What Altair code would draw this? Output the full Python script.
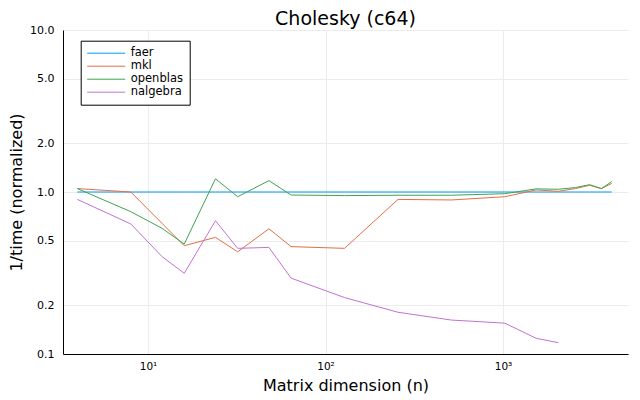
import altair as alt
import pandas as pd

sizes = [4, 8, 12, 16, 24, 32, 48, 64, 128, 256, 512, 1024, 1536, 2048, 2560, 3072, 3584, 4096]
faer = [1.0, 1.0, 1.0, 1.0, 1.0, 1.0, 1.0, 1.0, 1.0, 1.0, 1.0, 1.0, 1.0, 1.0, 1.0, 1.0, 1.0, 1.0]
mkl = [1.05, 1.0, 0.64, 0.466, 0.525, 0.427, 0.593, 0.46, 0.449, 0.90, 0.893, 0.935, 1.03, 1.01, 1.05, 1.10, 1.05, 1.13]
openblas = [1.05, 0.756, 0.597, 0.477, 1.207, 0.935, 1.175, 0.958, 0.95, 0.955, 0.955, 0.976, 1.045, 1.04, 1.065, 1.11, 1.05, 1.16]
nalgebra_sizes = [4, 8, 12, 16, 24, 32, 48, 64, 128, 256, 512, 1024, 1536, 2048]
nalgebra = [0.90, 0.635, 0.399, 0.315, 0.665, 0.449, 0.455, 0.294, 0.223, 0.181, 0.162, 0.155, 0.125, 0.1175]

names = ["faer", "mkl", "openblas", "nalgebra"]
colors = ["#009AFA", "#E36F47", "#3EA44E", "#C371D2"]

rows = []
for name, xs, vals in [("faer", sizes, faer), ("mkl", sizes, mkl),
                       ("openblas", sizes, openblas), ("nalgebra", nalgebra_sizes, nalgebra)]:
    for n, v in zip(xs, vals):
        rows.append({"lib": name, "n": n, "v": v})
df = pd.DataFrame(rows)

x_ticks = [10, 100, 1000]
y_ticks = [0.1, 0.2, 0.5, 1, 2, 5, 10]

chart = alt.Chart(df).mark_line(strokeWidth=1, clip=True).encode(
    x=alt.X("n:Q",
            scale=alt.Scale(type="log", domain=[3.32, 5060], nice=False),
            axis=alt.Axis(values=x_ticks,
                          labelExpr="datum.value == 10 ? '10¹' : datum.value == 100 ? '10²' : '10³'",
                          title="Matrix dimension (n)")),
    y=alt.Y("v:Q",
            scale=alt.Scale(type="log", domain=[0.1, 10], nice=False),
            axis=alt.Axis(values=y_ticks, format=".1f", title="1/time (normalized)")),
    color=alt.Color("lib:N",
                    scale=alt.Scale(domain=names, range=colors),
                    sort=names,
                    legend=alt.Legend(title=None, orient="none", legendX=17.7, legendY=10.7,
                                      symbolType="stroke", symbolSize=1444, symbolStrokeWidth=1,
                                      clipHeight=13, rowPadding=0, padding=6, labelOffset=5,
                                      labelFontSize=11.5, labelColor="black",
                                      strokeColor="black", fillColor="white")),
    detail="lib:N",
).properties(
    width=565, height=324,
    title=alt.TitleParams("Cholesky (c64)", fontSize=19, fontWeight="normal", offset=8, dy=13),
    autosize=alt.AutoSizeParams(type="none"),
    padding={"left": 55, "top": 22, "right": 4, "bottom": 42},
).configure(
    font="DejaVu Sans",
).configure_view(
    stroke=None,
).configure_axis(
    domainColor="black", domainWidth=1,
    gridColor="#ececec", gridWidth=1,
    ticks=False,
    labelColor="black",
    titleFontSize=16, titleFontWeight="normal", titleColor="black",
).configure_axisX(
    labelFontSize=10.5, labelPadding=7, titlePadding=5.5,
).configure_axisY(
    labelFontSize=11, labelPadding=9, titlePadding=5,
)

chart.save("out.html", embed_options={"renderer": "svg", "actions": False})
